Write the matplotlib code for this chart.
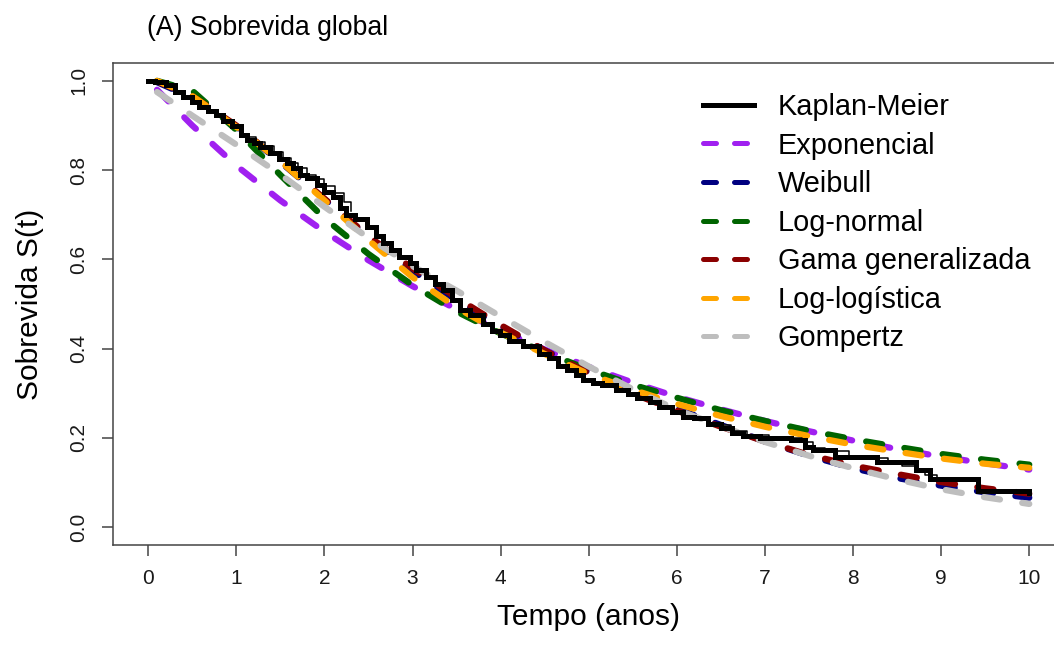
import matplotlib
matplotlib.use("Agg")
import matplotlib.pyplot as plt
import numpy as np

plt.rcParams["font.family"] = ["Liberation Sans", "DejaVu Sans"]

# Kaplan-Meier
km_t = [0, 0.08, 0.2, 0.3, 0.4, 0.5, 0.58, 0.68, 0.77, 0.85, 0.95, 1.05, 1.12, 1.2, 1.27,
        1.38, 1.48, 1.57, 1.64, 1.72, 1.8, 1.91, 2.0, 2.1, 2.18, 2.25, 2.35, 2.48, 2.58,
        2.66, 2.75, 2.85, 2.97, 3.04, 3.15, 3.25, 3.35, 3.45, 3.54, 3.65, 3.8, 3.9, 3.99,
        4.1, 4.25, 4.44, 4.55, 4.65, 4.75, 4.85, 4.94, 5.05, 5.15, 5.31, 5.45, 5.55, 5.69,
        5.8, 5.95, 6.07, 6.2, 6.35, 6.5, 6.63, 6.75, 6.94, 7.3, 7.45, 7.54, 7.8, 8.27,
        8.72, 8.87, 9.42, 10.0]
km_s = [1.0, 0.998, 0.99, 0.975, 0.964, 0.952, 0.942, 0.932, 0.923, 0.91, 0.898, 0.878,
        0.867, 0.86, 0.852, 0.838, 0.826, 0.815, 0.804, 0.79, 0.782, 0.766, 0.752, 0.74,
        0.715, 0.699, 0.69, 0.673, 0.652, 0.636, 0.62, 0.606, 0.591, 0.576, 0.56, 0.545,
        0.531, 0.51, 0.486, 0.475, 0.455, 0.44, 0.43, 0.418, 0.405, 0.389, 0.378, 0.362,
        0.352, 0.342, 0.329, 0.322, 0.318, 0.307, 0.298, 0.29, 0.281, 0.27, 0.258, 0.247,
        0.244, 0.232, 0.222, 0.21, 0.205, 0.199, 0.195, 0.18, 0.172, 0.157, 0.146, 0.128,
        0.107, 0.08, 0.077]

# thin black steps visible next to the KM curve
thin1_t = [1.1, 1.22, 1.32, 1.43, 1.53, 1.62, 1.7, 1.8, 1.9, 2.0, 2.12, 2.22, 2.3]
thin1_s = [0.874, 0.864, 0.854, 0.84, 0.828, 0.815, 0.805, 0.79, 0.779, 0.764, 0.748, 0.728, 0.708]
thin2_t = [6.5, 6.62, 6.8, 7.05, 7.42, 7.55, 7.68, 7.95, 8.1, 8.4, 8.55, 8.7, 8.82, 8.95, 9.4]
thin2_s = [0.228, 0.216, 0.207, 0.2, 0.19, 0.178, 0.17, 0.16, 0.156, 0.146, 0.138, 0.13,
           0.116, 0.108, 0.106]

# fitted parametric curves
t_fit = [0.1, 0.5, 1, 1.5, 2, 2.5, 3, 3.5, 4, 4.5, 5, 5.5, 6, 6.5, 7, 7.5, 8, 8.5, 9, 9.5, 10]
s_exp = [0.980, 0.900, 0.810, 0.732, 0.662, 0.598, 0.540, 0.488, 0.440, 0.398, 0.359,
         0.324, 0.292, 0.264, 0.238, 0.215, 0.194, 0.175, 0.158, 0.143, 0.129]
s_weib = [0.997, 0.962, 0.897, 0.818, 0.735, 0.650, 0.574, 0.508, 0.450, 0.396, 0.347,
          0.303, 0.265, 0.229, 0.192, 0.160, 0.132, 0.110, 0.093, 0.078, 0.066]
s_lnorm = [1.000, 0.978, 0.890, 0.789, 0.692, 0.612, 0.542, 0.483, 0.434, 0.392, 0.353,
           0.319, 0.290, 0.262, 0.238, 0.216, 0.197, 0.180, 0.164, 0.151, 0.140]
s_gengamma = [0.999, 0.966, 0.900, 0.820, 0.736, 0.652, 0.580, 0.514, 0.453, 0.396, 0.345,
              0.299, 0.261, 0.225, 0.192, 0.162, 0.138, 0.119, 0.101, 0.087, 0.075]
s_llogis = [1.000, 0.966, 0.897, 0.820, 0.732, 0.643, 0.560, 0.492, 0.436, 0.388, 0.343,
            0.308, 0.276, 0.249, 0.225, 0.204, 0.185, 0.169, 0.154, 0.142, 0.133]
s_gomp = [0.975, 0.922, 0.857, 0.790, 0.718, 0.648, 0.585, 0.530, 0.472, 0.415, 0.360,
          0.309, 0.263, 0.226, 0.191, 0.160, 0.132, 0.107, 0.085, 0.067, 0.052]

labels = ["Exponencial", "Weibull", "Log-normal", "Gama generalizada", "Log-logística", "Gompertz"]
colors = ["#A020F0", "#000080", "#006400", "#8B0000", "#FFA500", "#BEBEBE"]
fits = [s_exp, s_weib, s_lnorm, s_gengamma, s_llogis, s_gomp]

W, H = 1054, 648
fig = plt.figure(figsize=(W / 100, H / 100), dpi=100)
ax = fig.add_axes([113 / W, (H - 545) / H, 951.5 / W, 482 / H])

for s, c, lab in zip(fits, colors, labels):
    ax.plot(t_fit, s, color=c, lw=4.5, linestyle=(0, (2.6, 3.6)),
            dash_capstyle="round", label=lab)

ax.step(thin1_t, thin1_s, where="post", color="black", lw=1.1, zorder=4)
ax.step(thin2_t, thin2_s, where="post", color="black", lw=1.1, zorder=4)
ax.step(km_t, km_s, where="post", color="black", lw=3.6, zorder=5,
        solid_joinstyle="miter", label="Kaplan-Meier")

ax.set_xlim(-0.4, 10.4)
ax.set_ylim(-0.04, 1.04)
ax.set_xticks(range(0, 11))
ax.set_yticks([0, 0.2, 0.4, 0.6, 0.8, 1.0])
ax.set_yticklabels(["0.0", "0.2", "0.4", "0.6", "0.8", "1.0"], rotation=90, va="center")

for sp in ax.spines.values():
    sp.set_color("#444444")
    sp.set_linewidth(1.1)
ax.tick_params(direction="out", length=8, width=1.1, color="#444444",
               labelsize=15, labelcolor="#1a1a1a")
ax.tick_params(axis="x", pad=9)
ax.tick_params(axis="y", pad=10)

ax.set_xlabel("Tempo (anos)", fontsize=21.5)
ax.xaxis.set_label_coords(0.5, -0.12)
ax.set_ylabel("Sobrevida S(t)", fontsize=21.5)
ax.yaxis.set_label_coords(-0.072, 0.5)
ax.set_title("(A) Sobrevida global", loc="left", x=(147 - 113) / 951.5, y=1.059,
             fontsize=19.2, pad=0)

handles, labs = ax.get_legend_handles_labels()
order = [labs.index("Kaplan-Meier")] + [labs.index(l) for l in labels]
leg = ax.legend([handles[i] for i in order], [labs[i] for i in order],
                loc="upper left", bbox_to_anchor=(703 / W, 1 - 93 / H),
                bbox_transform=fig.transFigure, frameon=False, borderpad=0,
                borderaxespad=0, fontsize=20.8, handlelength=1.75,
                handletextpad=0.84, labelspacing=0.365)
for line in leg.get_lines():
    line.set_linewidth(3.6)

fig.savefig("out.png", dpi=100)
